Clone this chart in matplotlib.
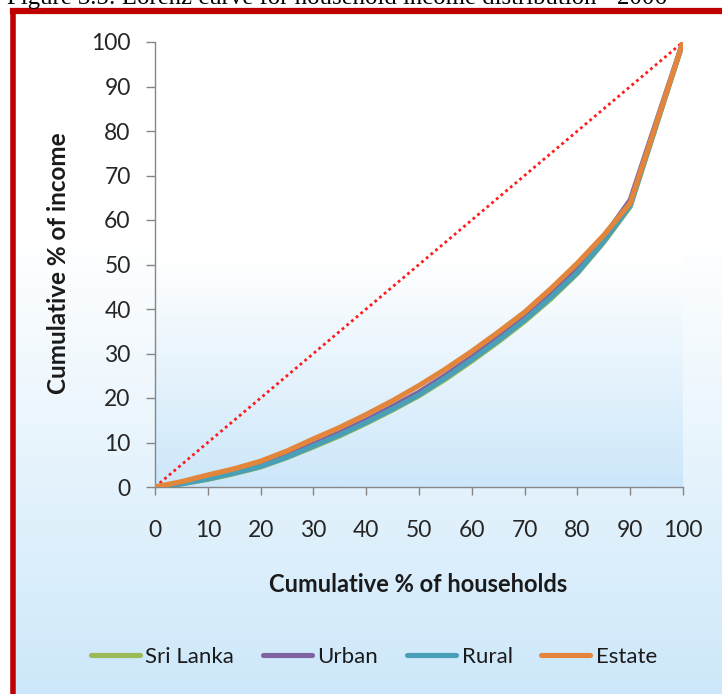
import numpy as np
import matplotlib
matplotlib.use("Agg")
import matplotlib.pyplot as plt
from matplotlib.lines import Line2D

# Cumulative % of households (x) and cumulative % of income (y) for each sector
households = [0, 5, 10, 15, 20, 25, 30, 35, 40, 45, 50, 55, 60, 65, 70, 75, 80, 85, 90, 95, 100]
sri_lanka = [0, 0.7, 1.7, 3.0, 4.5, 6.6, 9.0, 11.5, 14.3, 17.3, 20.5, 24.2, 28.3, 32.6, 37.2, 42.3, 48.0, 55.0, 63.0, 81.5, 100]
urban = [0, 0.8, 2.0, 3.4, 4.9, 7.1, 9.6, 12.2, 15.0, 18.1, 21.3, 25.1, 29.2, 33.6, 38.1, 43.3, 49.0, 56.2, 64.5, 82.3, 100]
rural = [0, 0.7, 1.8, 3.1, 4.6, 6.7, 9.2, 11.7, 14.5, 17.5, 20.7, 24.5, 28.6, 32.9, 37.5, 42.6, 48.2, 55.2, 63.2, 81.6, 100]
estate = [0, 1.2, 2.7, 4.1, 5.8, 8.1, 10.8, 13.4, 16.3, 19.4, 22.8, 26.5, 30.5, 34.8, 39.3, 44.6, 50.3, 56.6, 63.8, 81.9, 100]
equality = [0, 100]

series_names = ["Sri Lanka", "Urban", "Rural", "Estate"]
series_colors = ["#9BBB59", "#7F62A0", "#4A9FB8", "#E3863C"]
ticks = list(range(0, 101, 10))

W, H = 722, 694
plt.rcParams["font.family"] = ["Lato", "DejaVu Sans"]
fig = plt.figure(figsize=(W / 100, H / 100), dpi=100)
fig.patch.set_facecolor("white")


def px_x(p):
    return p / W


def px_y(p):
    return 1 - p / H


def vertical_gradient(n, white_until, bottom_rgb):
    # rows from top (index 0) to bottom; white until a fraction, then linear to bottom colour
    t = np.linspace(0, 1, n)
    f = np.clip((t - white_until) / (1 - white_until), 0, 1)
    top = np.array([255, 255, 255], float)
    bot = np.array(bottom_rgb, float)
    rows = top[None, :] * (1 - f[:, None]) + bot[None, :] * f[:, None]
    return (rows / 255.0)[:, None, :]


# chart-area background inside the frame
bg = fig.add_axes([0, 0, 1, 1], zorder=-10)
bg.set_xlim(0, 1)
bg.set_ylim(0, 1)
bg.axis("off")
bg.imshow(vertical_gradient(400, 0.33, (205, 232, 250)),
          extent=[px_x(16), 1, 0, px_y(14)], aspect="auto", interpolation="bilinear")
# red frame (left and top edges)
bg.plot([px_x(13.5), px_x(13.5)], [0, px_y(11)], color="#C00000", lw=4, solid_capstyle="projecting")
bg.plot([px_x(13.5), 1.01], [px_y(11), px_y(11)], color="#C00000", lw=4.5, solid_capstyle="projecting")

# caption sitting partly above the figure edge
fig.text(px_x(7), px_y(4), "Figure 3.5: Lorenz curve for household income distribution - 2006",
         family=["Liberation Serif"], fontsize=17.8, color="black", va="baseline", ha="left")

left, right, top, bottom = 155, 683, 42, 487
ax = fig.add_axes([px_x(left), px_y(bottom), (right - left) / W, (bottom - top) / H])
ax.set_facecolor("none")
ax.imshow(vertical_gradient(300, 0.49, (204, 231, 250)), extent=[0, 100, 0, 100],
          aspect="auto", interpolation="bilinear", zorder=0)

ax.plot(households[:1] + households[-1:], equality, color="#FF1A1A", lw=2.0,
        linestyle=(0, (1, 1.2)), zorder=2)
for name, vals, col in zip(series_names, [sri_lanka, urban, rural, estate], series_colors):
    ax.plot(households, vals, color=col, lw=3.7, solid_joinstyle="round",
            solid_capstyle="round", zorder=3, label=name)

ax.set_xlim(0, 100)
ax.set_ylim(0, 100)
ax.set_xticks(ticks)
ax.set_yticks(ticks)
ax.set_xticklabels([str(t) for t in ticks])
ax.set_yticklabels([str(t) for t in ticks])
for side in ["top", "right"]:
    ax.spines[side].set_visible(False)
for side in ["left", "bottom"]:
    ax.spines[side].set_color("#868686")
    ax.spines[side].set_linewidth(1.0)
ax.tick_params(axis="y", direction="out", length=6.5, width=1, color="#868686",
               pad=11, labelsize=16.5, labelcolor="#262626")
ax.tick_params(axis="x", direction="out", length=6, width=1, color="#868686",
               pad=18, labelsize=16.5, labelcolor="#262626")

ax.set_xlabel("Cumulative % of households", fontsize=17, fontweight="bold", color="#1a1a1a")
ax.set_ylabel("Cumulative % of income", fontsize=17.5, fontweight="bold", color="#1a1a1a")
ax.xaxis.set_label_coords((418 - left) / (right - left), (bottom - 573) / (bottom - top))
ax.yaxis.set_label_coords((70 - left) / (right - left), (bottom - 263) / (bottom - top))

handles = [Line2D([0], [0], color=c, lw=3.7, solid_capstyle="round") for c in series_colors]
fig.legend(handles, series_names, loc="center", bbox_to_anchor=(px_x(374), px_y(657)),
           ncol=4, frameon=False, fontsize=16, handlelength=2.2, handletextpad=0.25,
           columnspacing=1.3, labelcolor="#1a1a1a")

fig.savefig("out.png", dpi=100)
